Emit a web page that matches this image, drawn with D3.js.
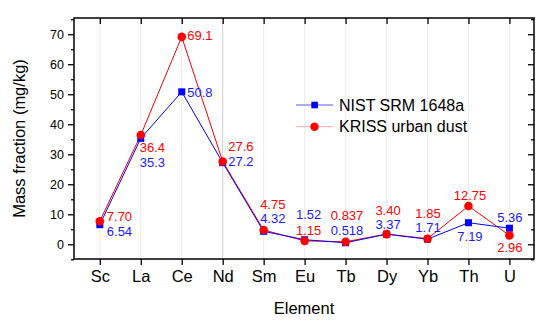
<!DOCTYPE html>
<html>
<head>
<meta charset="utf-8">
<script src="https://cdn.jsdelivr.net/npm/d3@7"></script>
<style>
  body { margin: 0; background: #fff; }
  svg text { font-family: "Liberation Sans", Arial, sans-serif; }
</style>
</head>
<body>
<div id="chart"></div>
<script>
// Data
const elements = ["Sc", "La", "Ce", "Nd", "Sm", "Eu", "Tb", "Dy", "Yb", "Th", "U"];
const nistValues = [6.54, 35.3, 50.8, 27.2, 4.32, 1.52, 0.518, 3.37, 1.71, 7.19, 5.36];
const krissValues = [7.70, 36.4, 69.1, 27.6, 4.75, 1.15, 0.837, 3.40, 1.85, 12.75, 2.96];
const nistText = ["6.54", "35.3", "50.8", "27.2", "4.32", "1.52", "0.518", "3.37", "1.71", "7.19", "5.36"];
const krissText = ["7.70", "36.4", "69.1", "27.6", "4.75", "1.15", "0.837", "3.40", "1.85", "12.75", "2.96"];
const yTicks = [0, 10, 20, 30, 40, 50, 60, 70];
const seriesNames = ["NIST SRM 1648a", "KRISS urban dust"];

// Label placement (pixel offsets from each point), anchor per element
const labelAnchor = ["start", "start", "start", "start", "start", "middle", "middle", "middle", "middle", "middle", "middle"];
const labelDx = [7, -1, 5.5, 5.5, -3.5, 4, 1.5, 1.5, 0.5, 1.5, 0.5];
const nistDy = [6.5, 23.5, 0, -1, -13, -25.5, -12.7, -10, -11.5, 14, -11];
const krissDy = [-4.5, 12, -1.5, -15, -26, -11, -26, -23.4, -25.8, -10.4, 12];

const width = 550, height = 322;
const margin = {top: 18, right: 16, bottom: 63, left: 74};
const blue = "#0000ff", red = "#ff0000";

const svg = d3.select("#chart").append("svg")
    .attr("width", width)
    .attr("height", height);

const x = d3.scaleLinear().domain([-0.63, 10.6]).range([margin.left, width - margin.right]);
const y = d3.scaleLinear().domain([-4.9, 75.4]).range([height - margin.bottom, margin.top]);

// faint vertical grid at each element
svg.append("g")
    .selectAll("line")
    .data(elements)
    .join("line")
    .attr("x1", (d, i) => x(i)).attr("x2", (d, i) => x(i))
    .attr("y1", margin.top).attr("y2", height - margin.bottom)
    .attr("stroke", d => d === "Nd" ? "#cfcfcf" : "#ececec")
    .attr("stroke-width", 1);

// Axes
const xIdx = d3.range(elements.length);
const minor = d3.range(-5, 76, 5);

svg.append("g")
    .attr("transform", `translate(0,${height - margin.bottom})`)
    .call(d3.axisBottom(x).tickValues(xIdx).tickFormat(i => elements[i]).tickSize(6).tickPadding(5))
    .call(g => g.select(".domain").remove())
    .call(g => g.selectAll("text").attr("font-size", 16.5).attr("fill", "#000"));

svg.append("g")
    .attr("transform", `translate(0,${margin.top})`)
    .call(d3.axisTop(x).tickValues(xIdx).tickFormat("").tickSize(-6))
    .call(g => g.select(".domain").remove());

svg.append("g")
    .attr("transform", `translate(${margin.left},0)`)
    .call(d3.axisLeft(y).tickValues(minor.filter(v => v % 10 !== 0)).tickFormat("").tickSize(3))
    .call(g => g.select(".domain").remove());
svg.append("g")
    .attr("transform", `translate(${margin.left},0)`)
    .call(d3.axisLeft(y).tickValues(yTicks).tickSize(6).tickPadding(4))
    .call(g => g.select(".domain").remove())
    .call(g => g.selectAll("text").attr("font-size", 12.5).attr("fill", "#000"));

svg.append("g")
    .attr("transform", `translate(${width - margin.right},0)`)
    .call(d3.axisRight(y).tickValues(minor.filter(v => v % 10 !== 0)).tickFormat("").tickSize(-3))
    .call(g => g.select(".domain").remove());
svg.append("g")
    .attr("transform", `translate(${width - margin.right},0)`)
    .call(d3.axisRight(y).tickValues(yTicks).tickFormat("").tickSize(-6))
    .call(g => g.select(".domain").remove());

svg.selectAll(".tick line").attr("stroke", "#000").attr("stroke-width", 1.3);

// frame
svg.append("rect")
    .attr("x", margin.left).attr("y", margin.top)
    .attr("width", width - margin.left - margin.right)
    .attr("height", height - margin.top - margin.bottom)
    .attr("fill", "none").attr("stroke", "#000").attr("stroke-width", 1.5);

// Axis titles
svg.append("text")
    .attr("transform", `translate(25,${(margin.top + height - margin.bottom) / 2}) rotate(-90)`)
    .attr("text-anchor", "middle")
    .attr("font-size", 16.5)
    .text("Mass fraction (mg/kg)");

svg.append("text")
    .attr("x", (margin.left + width - margin.right) / 2)
    .attr("y", 314)
    .attr("text-anchor", "middle")
    .attr("font-size", 16.5)
    .text("Element");

// Lines
const line = d3.line().x((d, i) => x(i)).y(d => y(d));

svg.append("path").datum(krissValues)
    .attr("d", line).attr("fill", "none").attr("stroke", red).attr("stroke-width", 1);
svg.append("path").datum(nistValues)
    .attr("d", line).attr("fill", "none").attr("stroke", blue).attr("stroke-width", 1);

// Markers
svg.append("g").selectAll("rect")
    .data(nistValues)
    .join("rect")
    .attr("x", (d, i) => x(i) - 3.5).attr("y", d => y(d) - 3.5)
    .attr("width", 7).attr("height", 7)
    .attr("fill", blue);

svg.append("g").selectAll("circle")
    .data(krissValues)
    .join("circle")
    .attr("cx", (d, i) => x(i)).attr("cy", d => y(d))
    .attr("r", 4.3)
    .attr("fill", red);

// Value labels
function addLabels(values, texts, dys, color) {
    svg.append("g").selectAll("text")
        .data(values)
        .join("text")
        .attr("x", (d, i) => x(i) + labelDx[i])
        .attr("y", (d, i) => y(d) + dys[i])
        .attr("dy", "0.36em")
        .attr("text-anchor", (d, i) => labelAnchor[i])
        .attr("font-size", 13)
        .attr("fill", color)
        .text((d, i) => texts[i]);
}
addLabels(nistValues, nistText, nistDy, "#1a1aff");
addLabels(krissValues, krissText, krissDy, red);

// Legend
const legend = svg.append("g").attr("transform", "translate(296,105)");
const rows = legend.selectAll("g")
    .data(seriesNames)
    .join("g")
    .attr("transform", (d, i) => `translate(0,${i * 21.7})`);
rows.append("line")
    .attr("x1", 0).attr("x2", 37)
    .attr("stroke", (d, i) => i === 0 ? "#5a5aff" : "#ffaaaa")
    .attr("stroke-width", 1);
rows.filter((d, i) => i === 0).append("rect")
    .attr("x", 15.3).attr("y", -3.3).attr("width", 6.6).attr("height", 6.6)
    .attr("fill", blue);
rows.filter((d, i) => i === 1).append("circle")
    .attr("cx", 18.5).attr("r", 4.2)
    .attr("fill", red);
rows.append("text")
    .attr("x", 43).attr("dy", "0.36em")
    .attr("font-size", 16)
    .text(d => d);
</script>
</body>
</html>
